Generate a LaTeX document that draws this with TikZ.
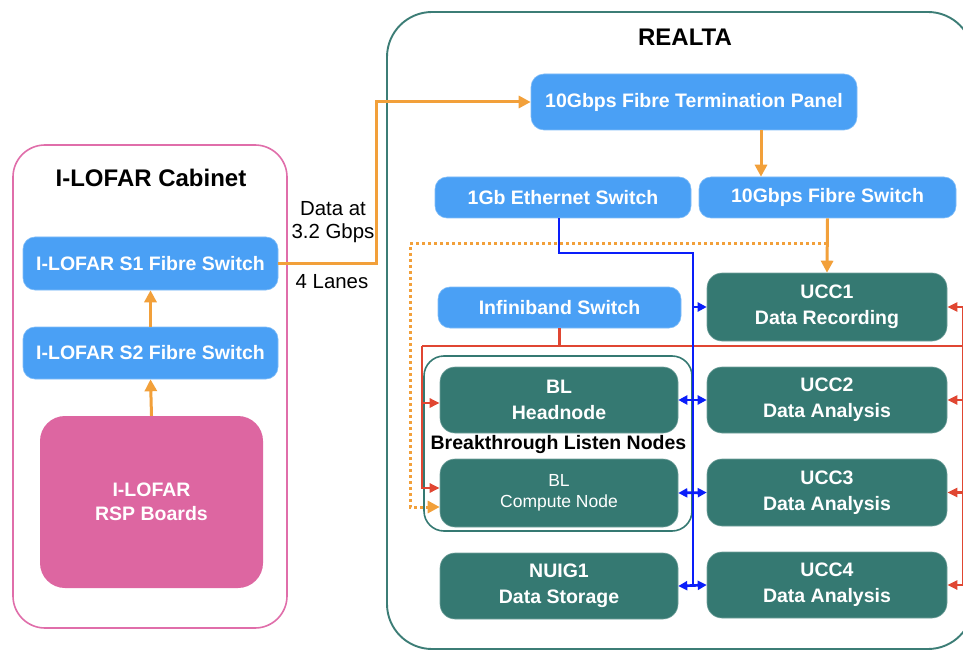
\documentclass[tikz,border=0pt]{standalone}
\usepackage{fontspec}
\setmainfont{Liberation Sans}
\usetikzlibrary{arrows.meta}
\definecolor{boxblue}{HTML}{4AA0F5}
\definecolor{tealbx}{HTML}{357972}
\definecolor{rsppink}{HTML}{DD66A1}
\definecolor{cabpink}{HTML}{E06EAA}
\definecolor{realtaedge}{HTML}{3C7D76}
\definecolor{oline}{HTML}{F2A03A}
\definecolor{rline}{HTML}{E04632}
\definecolor{bline}{HTML}{0A1EFA}
\begin{document}
\begin{tikzpicture}[x=1pt,y=-1pt,
  boxtext/.style={text=white, font=\fontsize{19.5}{26}\selectfont\bfseries, align=center, inner sep=0pt},
  bluebox/.style={rectangle, rounded corners=12pt, fill=boxblue, draw=boxblue!70!white, line width=0.6pt, boxtext},
  tealbox/.style={rectangle, rounded corners=15pt, fill=tealbx, draw=tealbx!70!white, line width=0.6pt, boxtext, minimum width=239pt},
  title/.style={font=\fontsize{24}{28}\selectfont\bfseries, inner sep=0pt},
  plain/.style={font=\fontsize{20.4}{23.5}\selectfont, align=center, inner sep=0pt},
  oarrow/.style={draw=oline, line width=3pt, -{Triangle[length=12pt,width=12pt]}},
  odots/.style={draw=oline, line width=3pt, dash pattern=on 2.6pt off 3.4pt, -{Triangle[length=12pt,width=12pt]}},
  rl/.style={draw=rline, line width=2.8pt},
  rarrow/.style={rl, -{Triangle[length=10pt,width=9pt]}},
  bl/.style={draw=bline, line width=2.7pt},
  barrow/.style={bl, -{Triangle[length=9pt,width=9pt]}},
  bdarrow/.style={bl, {Triangle[length=9pt,width=9pt]}-{Triangle[length=9pt,width=9pt]}}
]
\useasboundingbox (0,0) rectangle (963,652);
\clip (0,0) rectangle (963,652);
\fill[white] (0,0) rectangle (963,652);

% containers
\node[rectangle, rounded corners=32pt, draw=cabpink, line width=1.6pt, minimum width=274pt, minimum height=483pt] (cab) at (150,386.5) {};
\node[title] (cabt) at (151,178) {I-LOFAR Cabinet};
\node[rectangle, rounded corners=45pt, draw=realtaedge, line width=1.9pt, minimum width=586pt, minimum height=637pt] (realta) at (680,330.5) {};
\node[title] (realtat) at (685,37) {REALTA};
\node[rectangle, rounded corners=20pt, draw=tealbx, line width=1.6pt, minimum width=268pt, minimum height=175pt] (blg) at (558,443.5) {};
\node[font=\fontsize{19.5}{24}\selectfont\bfseries, inner sep=0pt] (blgt) at (558.5,444) {Breakthrough Listen Nodes};

% left side
\node[bluebox, minimum width=255pt, minimum height=53pt] (s1) at (150.5,263.5) {I-LOFAR S1 Fibre Switch};
\node[bluebox, minimum width=255pt, minimum height=52pt] (s2) at (150.5,353) {I-LOFAR S2 Fibre Switch};
\node[rectangle, rounded corners=25pt, fill=rsppink, boxtext, font=\fontsize{19.5}{24}\selectfont\bfseries, minimum width=223pt, minimum height=172pt] (rsp) at (151.5,502) {I-LOFAR\\RSP Boards};
\node[plain] (dtxt) at (333,222) {Data at\\3.2 Gbps};
\node[plain] (ltxt) at (332,282) {4 Lanes};

% REALTA side
\node[bluebox, rounded corners=13pt, minimum width=326pt, minimum height=56pt] (panel) at (694,102) {10Gbps Fibre Termination Panel};
\node[bluebox, minimum width=256pt, minimum height=41pt] (eth) at (563,197.5) {1Gb Ethernet Switch};
\node[bluebox, minimum width=257pt, minimum height=41pt] (fsw) at (827.5,197.5) {10Gbps Fibre Switch};
\node[bluebox, minimum width=243pt, minimum height=41pt] (ib) at (559.5,307.5) {Infiniband Switch};

\node[tealbox, minimum width=240pt, minimum height=68pt] (ucc1) at (827,307) {UCC1\\Data Recording};
\node[tealbox, minimum width=240pt, minimum height=66pt] (ucc2) at (827,400) {UCC2\\Data Analysis};
\node[tealbox, minimum width=240pt, minimum height=67pt] (ucc3) at (827,492.5) {UCC3\\Data Analysis};
\node[tealbox, minimum width=240pt, minimum height=66pt] (ucc4) at (827,585) {UCC4\\Data Analysis};
\node[tealbox, minimum width=238pt, minimum height=66pt] (head) at (559,400) {BL\\Headnode};
\node[tealbox, minimum width=238pt, minimum height=68pt, font=\fontsize{17.5}{21}\selectfont] (comp) at (559,493) {BL\\Compute Node};
\node[tealbox, minimum width=238pt, minimum height=66pt] (nuig) at (559,586) {NUIG1\\Data Storage};

% orange fibre links
\draw[oarrow] (rsp.north) -- (s2.south);
\draw[oarrow] (s2.north) -- (s1.south);
\draw[oarrow] (s1.east) -- ++(98,0) |- (panel.west);
\coordinate (px) at (761,0);
\draw[oarrow] (panel.south -| px) -- (fsw.north -| px);
\draw[oarrow] (fsw.south) -- (ucc1.north);
\coordinate (dtop) at (827,244);
\coordinate (dleft) at (410,507);
\draw[odots] (dtop) -| (dleft) -- (dleft -| comp.west);

% red infiniband links
\coordinate (rlft) at (422,346);
\coordinate (rrgt) at (963,346);
\draw[rl] (ib.south) -- (ib.south |- rlft);
\draw[rl] (rlft) -- (rrgt);
\coordinate (ha) at ([yshift=-3pt]head.west);
\coordinate (ca) at ([yshift=5pt]comp.west);
\draw[rarrow] (rlft) |- (ca);
\draw[rarrow] (ha -| rlft) -- (ha);
\draw[rl] (rrgt |- ucc1.east) -- (rrgt |- ucc4.east);
\foreach \u in {ucc1,ucc2,ucc3,ucc4}{
  \draw[rarrow] (rrgt |- \u.east) -- (\u.east);
}

% blue ethernet links
\coordinate (bc) at (693,253);
\draw[bl] ([xshift=-4pt]eth.south) |- (bc) -- (bc |- nuig.east);
\draw[barrow] (bc |- ucc1.west) -- (ucc1.west);
\draw[bdarrow] (head.east) -- (ucc2.west);
\draw[bdarrow] (comp.east) -- (ucc3.west);
\draw[bdarrow] (nuig.east) -- (ucc4.west);
\end{tikzpicture}
\end{document}
